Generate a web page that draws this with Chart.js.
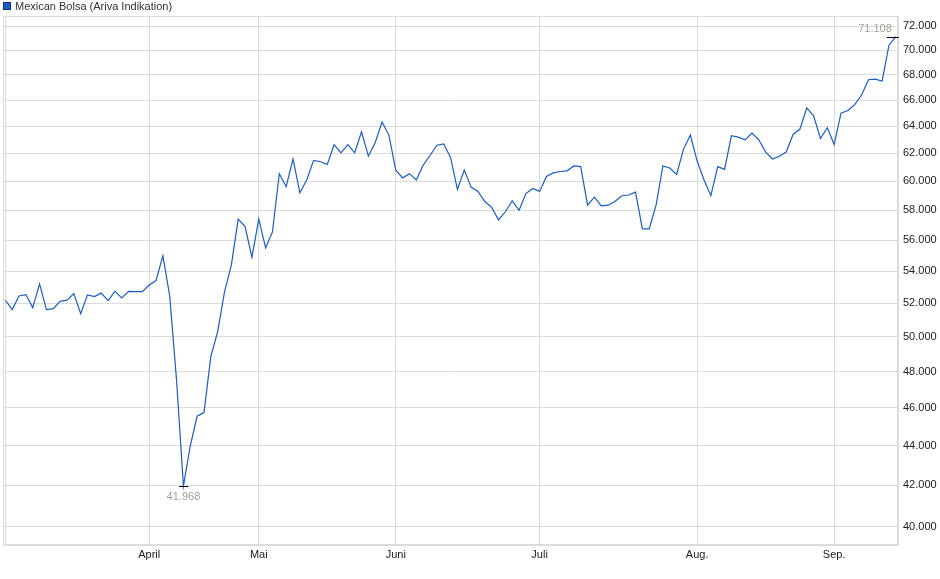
<!DOCTYPE html>
<html>
<head>
<meta charset="utf-8">
<script src="https://cdn.jsdelivr.net/npm/chart.js@4"></script>
<style>
  html, body { margin: 0; padding: 0; background: #fff; }
  #wrap { width: 940px; height: 579px; }
</style>
</head>
<body>
<div id="wrap"><canvas id="chart" width="940" height="579"></canvas></div>
<script>
// Schlusskurse pro Handelstag (Index 0 = erster Tag im Chart)
const kurse = [
  52190, 51620, 52450, 52540, 51740, 53200, 51620, 51680, 52120, 52200,
  52600, 51380, 52520, 52420, 52630, 52170, 52740, 52330, 52740, 52720,
  52720, 53130, 53410, 54990, 52450, 47500, 41968, 44000, 45550, 45750,
  48850, 50300, 52700, 54400, 57400, 56900, 54900, 57400, 55500, 56550,
  60550, 59630, 61600, 59200, 60100, 61500, 61400, 61200, 62640, 62050,
  62640, 62050, 63600, 61800, 62800, 64330, 63350, 60800, 60250, 60550,
  60100, 61150, 61850, 62600, 62700, 61700, 59450, 60800, 59600, 59300,
  58600, 58200, 57350, 57900, 58650, 58000, 59150, 59500, 59300, 60350,
  60600, 60700, 60750, 61100, 61050, 58350, 58900, 58300, 58350, 58600,
  59000, 59050, 59250, 56750, 56750, 58350, 61100, 60950, 60500, 62300,
  63350, 61450, 60100, 59000, 61050, 60850, 63300, 63200, 63000, 63500,
  63000, 62100, 61600, 61800, 62100, 63400, 63800, 65400, 64800, 63100,
  63900, 62650, 65000, 65200, 65650, 66400, 67600, 67650, 67500, 70400,
  71108
];

// Monatsanfaenge (Index des ersten Handelstags) und Beschriftung
const monatIndex = [0, 21, 37, 57, 78, 101, 121];
const monatNamen = ['', 'April', 'Mai', 'Juni', 'Juli', 'Aug.', 'Sep.'];

// Kursachse
const yTicks = [40000, 42000, 44000, 46000, 48000, 50000, 52000, 54000, 56000,
  58000, 60000, 62000, 64000, 66000, 68000, 70000, 72000];

const serienName = 'Mexican Bolsa (Ariva Indikation)';
const linienFarbe = '#1c5cc4';
const gitterFarbe = '#dcdcdc';
const schrift = 'Arial, "Liberation Sans", sans-serif';

const fmt = v => v.toLocaleString('de-DE');

// Rahmen um die Zeichenflaeche
const rahmen = {
  id: 'rahmen',
  beforeDatasetsDraw(chart) {
    const { ctx, chartArea: a } = chart;
    ctx.save();
    ctx.strokeStyle = gitterFarbe;
    ctx.lineWidth = 1;
    ctx.strokeRect(a.left + 0.5, a.top + 0.5, a.right - a.left - 1, a.bottom - a.top - 1);
    ctx.restore();
  }
};

// Legende oben links
const legende = {
  id: 'legende',
  afterDraw(chart) {
    const ctx = chart.ctx;
    ctx.save();
    ctx.fillStyle = linienFarbe;
    ctx.fillRect(3, 2, 8, 8);
    ctx.strokeStyle = '#12306a';
    ctx.lineWidth = 1;
    ctx.strokeRect(3.5, 2.5, 7, 7);
    ctx.fillStyle = '#333';
    ctx.font = '11px ' + schrift;
    ctx.textBaseline = 'middle';
    ctx.fillText(serienName, 15, 6.5);
    ctx.restore();
  }
};

// Hoch- und Tiefmarken
const extrema = {
  id: 'extrema',
  afterDatasetsDraw(chart) {
    const { ctx, scales: { x, y } } = chart;
    let iMin = 0, iMax = 0;
    kurse.forEach((v, i) => {
      if (v < kurse[iMin]) iMin = i;
      if (v > kurse[iMax]) iMax = i;
    });
    ctx.save();
    ctx.font = '11px ' + schrift;
    ctx.strokeStyle = '#000';
    ctx.lineWidth = 1;
    ctx.fillStyle = '#a89e92';
    ctx.textBaseline = 'middle';

    let px = x.getPixelForValue(iMin), py = Math.round(y.getPixelForValue(kurse[iMin])) + 0.5;
    ctx.beginPath(); ctx.moveTo(px - 4.5, py); ctx.lineTo(px + 5, py); ctx.stroke();
    ctx.textAlign = 'center';
    ctx.fillText(fmt(kurse[iMin]), px, py + 10.5);

    px = x.getPixelForValue(iMax); py = Math.round(y.getPixelForValue(kurse[iMax])) + 0.5;
    ctx.beginPath(); ctx.moveTo(px - 9, py); ctx.lineTo(px + 3, py); ctx.stroke();
    ctx.textAlign = 'right';
    ctx.fillText(fmt(kurse[iMax]), px - 4, py - 8.5);
    ctx.restore();
  }
};

new Chart(document.getElementById('chart'), {
  type: 'line',
  data: {
    datasets: [{
      label: serienName,
      data: kurse.map((v, i) => ({ x: i, y: v })),
      borderColor: linienFarbe,
      backgroundColor: linienFarbe,
      borderWidth: 1.2,
      pointRadius: 0,
      tension: 0
    }]
  },
  options: {
    responsive: false,
    animation: false,
    devicePixelRatio: 1,
    layout: { padding: { top: 16, left: 3, right: 0, bottom: 0 } },
    plugins: {
      legend: { display: false },
      tooltip: { enabled: false }
    },
    scales: {
      x: {
        type: 'linear',
        min: -0.34,
        max: 130.32,
        afterBuildTicks: s => { s.ticks = monatIndex.map(v => ({ value: v })); },
        afterFit: s => { s.height = 34; },
        grid: { color: gitterFarbe, drawTicks: false },
        border: { color: gitterFarbe },
        ticks: {
          autoSkip: false,
          maxRotation: 0,
          padding: 3,
          color: '#222',
          font: { family: schrift, size: 11 },
          callback: v => monatNamen[monatIndex.indexOf(v)] ?? ''
        }
      },
      y: {
        type: 'logarithmic',
        position: 'right',
        min: 39164,
        max: 72850,
        afterBuildTicks: s => { s.ticks = yTicks.map(v => ({ value: v })); },
        afterFit: s => { s.width = 42; },
        grid: { color: gitterFarbe, drawTicks: false },
        border: { color: gitterFarbe },
        ticks: {
          padding: 5,
          color: '#222',
          font: { family: schrift, size: 11 },
          callback: v => fmt(v)
        }
      }
    }
  },
  plugins: [rahmen, legende, extrema]
});
</script>
</body>
</html>
